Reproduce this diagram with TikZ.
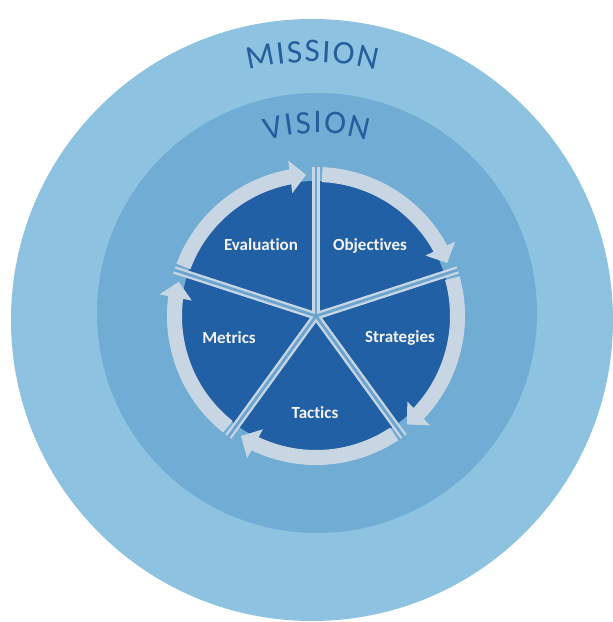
\documentclass[tikz,border=0pt]{standalone}
\usepackage{fontspec}
\setmainfont{Carlito}[Ligatures=NoCommon]
\usetikzlibrary{arrows.meta,bending,decorations.text,calc}

\definecolor{missionblue}{RGB}{141,195,224}
\definecolor{visionblue}{RGB}{112,172,211}
\definecolor{pieblue}{RGB}{33,96,164}
\definecolor{ringgrey}{RGB}{200,214,227}
\definecolor{spokeblue}{RGB}{108,164,208}
\definecolor{titleblue}{RGB}{36,94,156}

\newcommand\titlefont{\fontsize{33}{33}\selectfont}

\tikzset{
  ringarrow/.style={draw=ringgrey, line width=15pt,
    -{Triangle[width=32pt,length=16pt,fill=ringgrey]}},
  spokeedge/.style={draw=ringgrey, line width=7.5pt},
  spokecore/.style={draw=spokeblue, line width=2.8pt},
  label/.style={text=white!96!blue, font=\bfseries\fontsize{17}{17}\selectfont, inner sep=0pt},
  arctitle/.style={font=\titlefont, decorate, decoration={text effects along path,
      text={#1}, text align=center,
      text effects/.cd, text along path,
      character widths={font=\titlefont, inner xsep=0.9pt},
      characters={text=titleblue, font=\titlefont}}},
}

\begin{document}
\begin{tikzpicture}[x=1pt,y=1pt]
  \useasboundingbox (0,0) rectangle (613,622);
  \fill[white] (0,0) rectangle (613,622);

  % centres of the three rings
  \coordinate (O) at (312,302);
  \coordinate (V) at (317,309);
  \coordinate (C) at (316,306);

  % mission and vision discs
  \fill[missionblue] (O) circle[radius=301];
  \fill[visionblue] (V) circle[radius=220];

  % titles set along arcs
  \path[arctitle=MISSION]
    (O) ++(118:258) arc[start angle=118, end angle=62, radius=258];
  \path[arctitle=VISION]
    (V) ++(130:180) arc[start angle=130, end angle=50, radius=180];

  % the cycle disc
  \fill[pieblue] (C) circle[radius=135];

  % clockwise arrows around the disc, one per sector
  \foreach \s in {90,18,-54,-126,-198}
    \draw[ringarrow] (C) ++(\s+69.5:141.5)
      arc[start angle=\s+69.5, end angle=\s+4, radius=141.5];

  % spokes between the sectors
  \foreach \s [count=\i] in {90,18,-54,-126,162}
    \coordinate (rim\i) at ($(C)+(\s:149)$);
  \foreach \i in {1,...,5}
    \draw[spokeedge] (C) -- (rim\i);
  \foreach \i in {1,...,5}
    \draw[spokecore] (C) -- (rim\i);

  % sector labels
  \node[label] (evaluation) at (261,377) {Evaluation};
  \node[label] (objectives) at (370,376) {Objectives};
  \node[label] (strategies) at (400,284) {Strategies};
  \node[label] (tactics)    at (315,209) {Tactics};
  \node[label] (metrics)    at (229,284) {Metrics};
\end{tikzpicture}
\end{document}
